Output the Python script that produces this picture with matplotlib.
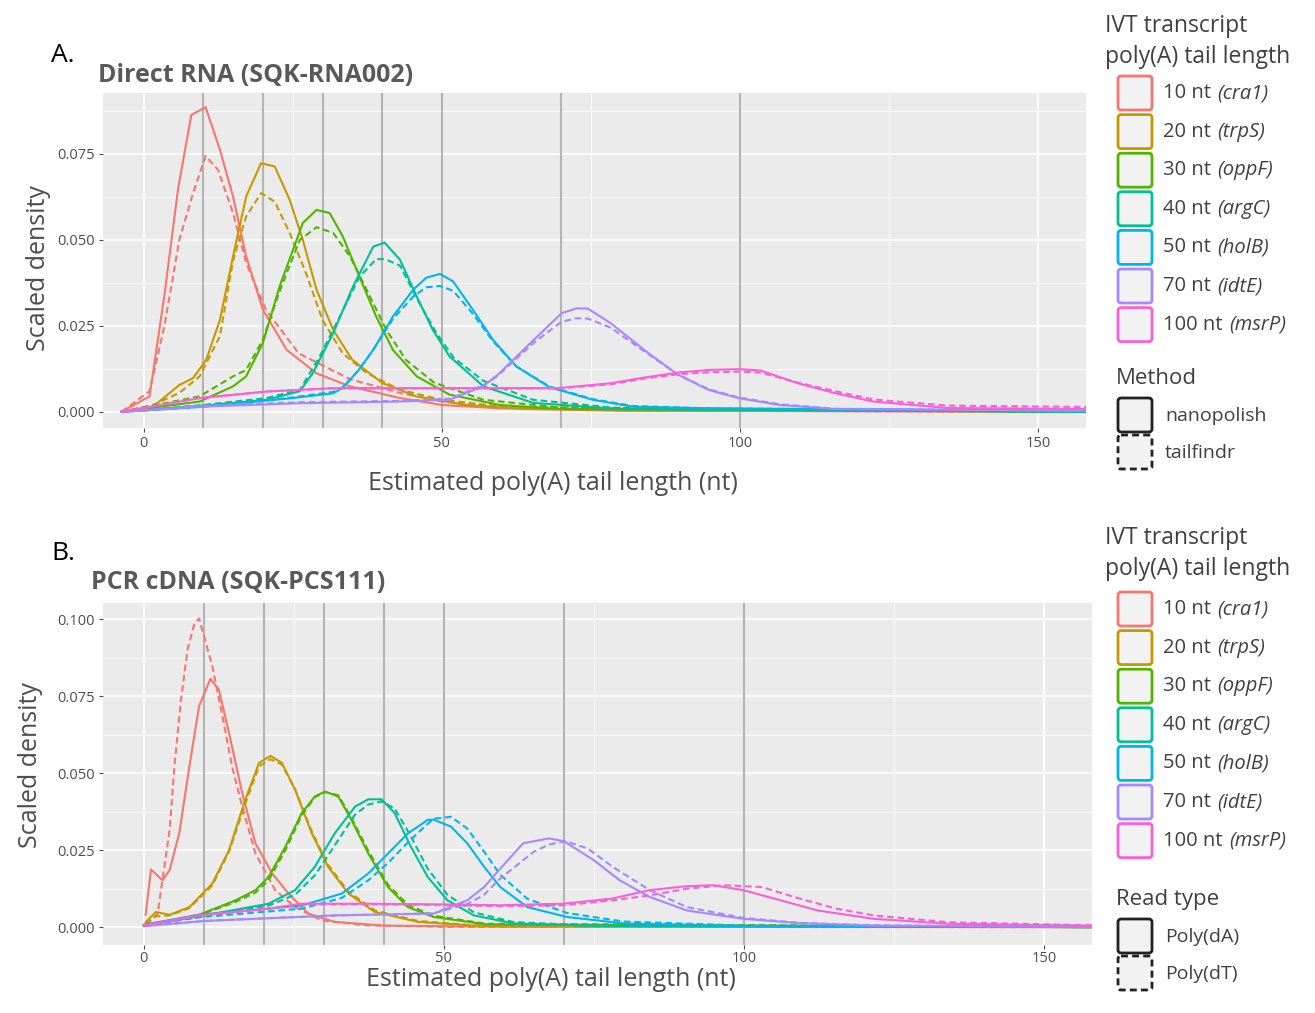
import matplotlib
matplotlib.use("Agg")
import matplotlib.pyplot as plt
from matplotlib.patches import FancyBboxPatch

plt.rcParams["font.family"] = ["Open Sans", "DejaVu Sans"]

# ---------------- data: panel A (Direct RNA), nanopolish / tailfindr ----------------
a_cra1_np_x = [-3.7, 1, 3.5, 5.8, 8, 10.4, 12.8, 15, 17.2, 20, 24, 29, 34.6, 43, 50, 60, 80, 160]
a_cra1_np_y = [0, 0.0045, 0.034, 0.065, 0.0863, 0.0886, 0.0762, 0.0626, 0.0452, 0.0297, 0.018, 0.0112, 0.0074, 0.004, 0.002, 0.001, 0.0003, 0]
a_cra1_tf_x = [-3.7, 1, 3.5, 6, 8.3, 10.4, 12.5, 15, 17.2, 20.5, 26, 34.6, 43, 50, 60, 80, 160]
a_cra1_tf_y = [0, 0.006, 0.025, 0.05, 0.0636, 0.0744, 0.0703, 0.0578, 0.0433, 0.0297, 0.017, 0.0095, 0.0055, 0.003, 0.0015, 0.0004, 0]

a_trps_np_x = [-3.7, 1.6, 6, 8.3, 10.5, 12.8, 15, 17.2, 19.7, 22, 24.5, 26.7, 29, 31.8, 35, 40, 45.7, 54, 65, 160]
a_trps_np_y = [0, 0.0015, 0.0078, 0.0098, 0.0151, 0.0267, 0.0452, 0.0626, 0.0723, 0.0713, 0.0616, 0.05, 0.0355, 0.0238, 0.0151, 0.0084, 0.0045, 0.002, 0.0008, 0]
a_trps_tf_x = [-3.7, 1.6, 6, 9.4, 12.8, 15, 17.2, 19.7, 22, 24.5, 27.3, 30, 33.4, 37.4, 43, 50, 60, 160]
a_trps_tf_y = [0, 0.002, 0.0055, 0.0103, 0.022, 0.044, 0.0568, 0.0636, 0.0611, 0.052, 0.04, 0.0267, 0.017, 0.0113, 0.0064, 0.0035, 0.0015, 0]

a_oppf_np_x = [-3.7, 9.4, 15, 17.2, 20, 22.8, 26.7, 29, 31.2, 33.4, 36.2, 39, 41.8, 45.8, 51.3, 59.7, 70, 160]
a_oppf_np_y = [0, 0.003, 0.0074, 0.0103, 0.02, 0.0364, 0.0549, 0.0587, 0.0578, 0.051, 0.0393, 0.0277, 0.018, 0.0103, 0.005, 0.002, 0.0008, 0]
a_oppf_tf_x = [-3.7, 9.4, 15, 17.2, 20, 22.8, 26.2, 29, 31.8, 34.6, 37.4, 40.7, 44, 48.7, 57, 70, 160]
a_oppf_tf_y = [0, 0.0045, 0.0103, 0.0122, 0.021, 0.035, 0.05, 0.0537, 0.052, 0.0452, 0.0355, 0.0238, 0.0151, 0.0085, 0.0035, 0.0012, 0]

a_argc_np_x = [-3.7, 10, 20.6, 26.2, 28.4, 31.8, 35.1, 38.5, 40.4, 43, 45.8, 48.5, 51.3, 57, 65.3, 80, 160]
a_argc_np_y = [0, 0.0018, 0.0035, 0.006, 0.0113, 0.0229, 0.0364, 0.048, 0.0492, 0.0442, 0.0335, 0.0238, 0.0161, 0.0074, 0.0026, 0.0008, 0]
a_argc_tf_x = [-3.7, 10, 20.6, 26.2, 29.5, 32.9, 36.2, 39, 40.5, 43, 45.8, 49, 52, 57, 65.3, 80, 160]
a_argc_tf_y = [0, 0.002, 0.004, 0.0064, 0.016, 0.0277, 0.0393, 0.0444, 0.0444, 0.0425, 0.033, 0.0232, 0.0157, 0.009, 0.0035, 0.001, 0]

a_holb_np_x = [-3.7, 10, 25, 31.8, 33.4, 36, 38.5, 41.8, 45.2, 47.4, 49.7, 51.9, 55.2, 58.6, 62.5, 68, 75.3, 82, 95, 160]
a_holb_np_y = [0, 0.0015, 0.004, 0.0054, 0.007, 0.012, 0.018, 0.0277, 0.0355, 0.039, 0.0401, 0.0379, 0.0297, 0.0209, 0.0132, 0.0072, 0.0035, 0.0015, 0.001, 0.0002]
a_holb_tf_x = [-3.7, 10, 25, 31.8, 33.4, 36, 38.5, 41.8, 45.2, 47.4, 49.7, 51.9, 55.2, 58.6, 62.5, 68, 75.3, 82, 95, 160]
a_holb_tf_y = [0, 0.0015, 0.0042, 0.0058, 0.0072, 0.012, 0.018, 0.027, 0.0335, 0.0362, 0.0366, 0.0352, 0.0285, 0.0205, 0.0132, 0.0074, 0.0037, 0.0017, 0.001, 0.0002]

a_idte_np_x = [-3.7, 9.4, 26.2, 43, 51.3, 57, 59.4, 62.5, 65.7, 70.1, 72.6, 74.5, 78.3, 84.6, 89.6, 94.7, 99.7, 106.6, 116, 160]
a_idte_np_y = [0, 0.0015, 0.0025, 0.003, 0.0035, 0.0075, 0.0108, 0.016, 0.0214, 0.0287, 0.0301, 0.03, 0.0258, 0.0171, 0.0108, 0.0064, 0.004, 0.002, 0.0008, 0.0003]
a_idte_tf_x = [-3.7, 9.4, 26.2, 43, 51.3, 57, 59.4, 62.5, 65.7, 70.1, 72.6, 74.5, 78.3, 84.6, 89.6, 94.7, 99.7, 106.6, 116, 160]
a_idte_tf_y = [0, 0.0017, 0.0028, 0.0032, 0.0038, 0.0078, 0.0105, 0.0155, 0.0205, 0.0262, 0.0272, 0.0271, 0.0245, 0.0168, 0.0108, 0.0066, 0.0042, 0.0022, 0.0009, 0.0003]

a_msrp_np_x = [-3.7, 9.4, 20.6, 31.8, 48.5, 59.4, 69.5, 78.3, 84, 90, 95, 100, 103.5, 109.7, 116, 122.3, 134.9, 153.8, 160]
a_msrp_np_y = [0, 0.004, 0.0059, 0.0069, 0.0069, 0.0069, 0.0069, 0.0083, 0.0100, 0.0115, 0.0122, 0.0124, 0.012, 0.0083, 0.0054, 0.003, 0.0011, 0.0009, 0.0008]
a_msrp_tf_x = [-3.7, 9.4, 20.6, 31.8, 48.5, 59.4, 69.5, 78.3, 84, 90, 95, 100, 103.5, 109.7, 116, 122.3, 134.9, 153.8, 160]
a_msrp_tf_y = [0, 0.004, 0.0059, 0.0068, 0.0068, 0.0068, 0.0068, 0.008, 0.0097, 0.011, 0.0115, 0.0117, 0.0114, 0.0085, 0.006, 0.0036, 0.0018, 0.0015, 0.0014]

# ---------------- data: panel B (PCR cDNA), Poly(dA) / Poly(dT) ----------------
b_cra1_da_x = [0.3, 1.2, 3.1, 4.3, 5.9, 7.6, 9.2, 11.1, 12.5, 14.2, 16.4, 18.6, 21.4, 24.1, 27.4, 31.8, 40, 60, 160]
b_cra1_da_y = [0.004, 0.0187, 0.0152, 0.0185, 0.0304, 0.0522, 0.0717, 0.0806, 0.0771, 0.063, 0.0435, 0.0272, 0.0174, 0.0109, 0.0044, 0.0017, 0.0005, 0.0001, 0]
b_cra1_dt_x = [0.4, 2.3, 4.3, 5.1, 6.2, 7.3, 8.4, 9.2, 11.4, 13.1, 14.7, 16.4, 18.6, 21.9, 25.2, 29.6, 37, 50, 160]
b_cra1_dt_y = [0.0006, 0.0044, 0.0315, 0.0522, 0.0739, 0.0902, 0.0983, 0.1002, 0.0848, 0.0685, 0.0522, 0.0391, 0.0239, 0.012, 0.0065, 0.0022, 0.0006, 0.0001, 0]

b_trps_da_x = [0.3, 2, 4.3, 7.6, 11.4, 14.2, 16.9, 19.2, 21.1, 23, 25.2, 28, 30.7, 34.1, 38.5, 45.7, 55, 160]
b_trps_da_y = [0.0016, 0.0049, 0.004, 0.0065, 0.0141, 0.025, 0.0413, 0.0533, 0.0556, 0.0533, 0.0446, 0.0304, 0.0196, 0.0109, 0.0049, 0.0017, 0.0005, 0]
b_trps_dt_x = [0.3, 2, 4.3, 7.6, 11.4, 14.2, 16.9, 19.2, 21.1, 23, 25.2, 28, 30.7, 34.1, 38.5, 45.7, 55, 160]
b_trps_dt_y = [0.0012, 0.0035, 0.0038, 0.0062, 0.0135, 0.0245, 0.040, 0.0522, 0.0545, 0.0528, 0.0448, 0.031, 0.0202, 0.0115, 0.0054, 0.002, 0.0006, 0]

b_oppf_da_x = [0, 9.2, 15.3, 18.6, 20.8, 23.6, 26.3, 28.5, 30.2, 32.4, 34.6, 37.4, 40.7, 44, 48.3, 57, 160]
b_oppf_da_y = [0.0005, 0.004, 0.0087, 0.012, 0.0163, 0.0261, 0.037, 0.0424, 0.044, 0.0424, 0.0348, 0.0239, 0.013, 0.0065, 0.0033, 0.0009, 0]
b_oppf_dt_x = [0, 9.2, 15.3, 18.6, 20.8, 23.6, 26.3, 28.5, 30.2, 32.4, 34.6, 37.4, 40.7, 44, 48.3, 57, 160]
b_oppf_dt_y = [0.0005, 0.0038, 0.0082, 0.0112, 0.0152, 0.025, 0.0362, 0.0422, 0.0438, 0.0428, 0.0355, 0.0248, 0.0138, 0.0072, 0.0037, 0.0011, 0]

b_argc_da_x = [0, 9.2, 20.8, 25.2, 28.5, 31.8, 35.2, 37.4, 39.6, 41.8, 44.5, 47.3, 50.6, 55, 61.7, 75, 160]
b_argc_da_y = [0.0005, 0.0035, 0.0076, 0.012, 0.0196, 0.0304, 0.0391, 0.0415, 0.0415, 0.037, 0.0261, 0.0163, 0.0087, 0.0038, 0.0012, 0.0004, 0]
b_argc_dt_x = [0, 9.2, 20.8, 25.2, 28.5, 31.8, 35.2, 37.4, 39.6, 41.8, 44.5, 47.3, 50.6, 55, 61.7, 75, 160]
b_argc_dt_y = [0.0005, 0.0033, 0.007, 0.0105, 0.0168, 0.0265, 0.0365, 0.0398, 0.0408, 0.0385, 0.0295, 0.019, 0.0105, 0.0048, 0.0016, 0.0005, 0]

b_holb_da_x = [0, 9.2, 26.3, 33, 37.4, 40.7, 44, 47.3, 48.3, 51.2, 53.9, 56.7, 59.4, 63.9, 70.5, 80, 100, 160]
b_holb_da_y = [0.0008, 0.004, 0.007, 0.0109, 0.0174, 0.0239, 0.0304, 0.0348, 0.0349, 0.0326, 0.0272, 0.0196, 0.013, 0.0065, 0.0033, 0.0012, 0.0004, 0]
b_holb_dt_x = [0, 9.2, 26.3, 33, 37.4, 40.7, 44, 47.3, 48.3, 51.2, 53.9, 56.7, 59.4, 63.9, 70.5, 80, 100, 160]
b_holb_dt_y = [0.0006, 0.0032, 0.006, 0.0095, 0.0152, 0.0208, 0.0275, 0.0335, 0.0352, 0.0358, 0.032, 0.0245, 0.017, 0.0092, 0.0046, 0.0018, 0.0005, 0]

b_idte_da_x = [0, 10, 31.8, 48.3, 53.9, 56.7, 59.4, 63.2, 67.5, 70, 75, 79.3, 84.3, 90.5, 99.9, 109.2, 121.6, 160]
b_idte_da_y = [0.0003, 0.002, 0.0038, 0.0044, 0.0087, 0.013, 0.019, 0.0272, 0.0288, 0.0279, 0.0217, 0.0152, 0.0098, 0.0054, 0.0027, 0.0013, 0.0005, 0]
b_idte_dt_x = [0, 10, 31.8, 48.3, 53.9, 56.7, 59.4, 65, 67.5, 70.3, 74, 78.1, 84.3, 90.5, 99.9, 109.2, 121.6, 160]
b_idte_dt_y = [0.0003, 0.002, 0.0038, 0.0045, 0.0075, 0.0105, 0.0158, 0.0245, 0.0268, 0.0279, 0.0255, 0.0196, 0.012, 0.0065, 0.003, 0.0014, 0.0006, 0]

b_msrp_da_x = [0, 9.2, 20.8, 26.3, 37.4, 48.3, 59.4, 70, 78.1, 84.3, 90.5, 94.9, 99.9, 106.1, 112.3, 121.6, 134, 160]
b_msrp_da_y = [0.0005, 0.0038, 0.006, 0.0076, 0.0076, 0.0074, 0.0071, 0.0076, 0.0093, 0.012, 0.0133, 0.0136, 0.012, 0.0087, 0.0054, 0.0027, 0.0011, 0.0004]
b_msrp_dt_x = [0, 9.2, 20.8, 26.3, 37.4, 48.3, 59.4, 70, 78.1, 84.3, 90.5, 96.8, 103, 109.2, 115.4, 121.6, 134, 160]
b_msrp_dt_y = [0.0005, 0.0038, 0.006, 0.0074, 0.0074, 0.0072, 0.0068, 0.0071, 0.0087, 0.0103, 0.0125, 0.0136, 0.013, 0.0093, 0.006, 0.0038, 0.0016, 0.0005]

# labels / categories
tail_labels = ["10 nt", "20 nt", "30 nt", "40 nt", "50 nt", "70 nt", "100 nt"]
gene_labels = ["(cra1)", "(trpS)", "(oppF)", "(argC)", "(holB)", "(idtE)", "(msrP)"]
colors = ["#F8766D", "#C49A00", "#53B400", "#00C094", "#00B6EB", "#A58AFF", "#FB61D7"]
ref_lengths = [10, 20, 30, 40, 50, 70, 100]

a_solid = [(a_cra1_np_x, a_cra1_np_y), (a_trps_np_x, a_trps_np_y), (a_oppf_np_x, a_oppf_np_y),
           (a_argc_np_x, a_argc_np_y), (a_holb_np_x, a_holb_np_y), (a_idte_np_x, a_idte_np_y),
           (a_msrp_np_x, a_msrp_np_y)]
a_dash = [(a_cra1_tf_x, a_cra1_tf_y), (a_trps_tf_x, a_trps_tf_y), (a_oppf_tf_x, a_oppf_tf_y),
          (a_argc_tf_x, a_argc_tf_y), (a_holb_tf_x, a_holb_tf_y), (a_idte_tf_x, a_idte_tf_y),
          (a_msrp_tf_x, a_msrp_tf_y)]
b_solid = [(b_cra1_da_x, b_cra1_da_y), (b_trps_da_x, b_trps_da_y), (b_oppf_da_x, b_oppf_da_y),
           (b_argc_da_x, b_argc_da_y), (b_holb_da_x, b_holb_da_y), (b_idte_da_x, b_idte_da_y),
           (b_msrp_da_x, b_msrp_da_y)]
b_dash = [(b_cra1_dt_x, b_cra1_dt_y), (b_trps_dt_x, b_trps_dt_y), (b_oppf_dt_x, b_oppf_dt_y),
          (b_argc_dt_x, b_argc_dt_y), (b_holb_dt_x, b_holb_dt_y), (b_idte_dt_x, b_idte_dt_y),
          (b_msrp_dt_x, b_msrp_dt_y)]

W, H = 1315, 1013
DASH = (0, (3.2, 1.8))
TXT = "#4D4D4D"
LEG = "#404040"

fig = plt.figure(figsize=(W / 100, H / 100), dpi=100)
axA = fig.add_axes([103 / W, 1 - 428 / H, 983 / W, 335 / H])
axB = fig.add_axes([103 / W, 1 - 945 / H, 989 / W, 342 / H])


def draw_panel(ax, solid, dashed, yticks, ylim, xpad):
    ax.set_facecolor("#EBEBEB")
    for s in ax.spines.values():
        s.set_visible(False)
    ax.set_xticks([0, 50, 100, 150])
    ax.set_xticks([25, 75, 125], minor=True)
    ax.set_yticks(yticks)
    ax.set_yticklabels(["%.3f" % v for v in yticks])
    ax.set_yticks([v + 0.0125 for v in yticks if v + 0.0125 < ylim[1]], minor=True)
    ax.set_xlim(-6.8, 158)
    ax.set_ylim(*ylim)
    ax.grid(which="major", color="white", lw=1.2)
    ax.grid(which="minor", color="white", lw=0.6)
    ax.set_axisbelow(True)
    ax.tick_params(which="minor", length=0)
    ax.tick_params(which="major", length=3, width=0.8, color="#4D4D4D",
                   labelcolor=TXT, labelsize=10.5, pad=3)
    ax.tick_params(axis="x", which="major", pad=xpad)
    for v in ref_lengths:
        ax.axvline(v, color="#B4B4B4", lw=1.5, zorder=1)
    for i in range(len(colors)):
        ax.plot(solid[i][0], solid[i][1], color=colors[i], lw=1.5, zorder=3)
        ax.plot(dashed[i][0], dashed[i][1], color=colors[i], lw=1.5, ls=DASH, zorder=3)
    ax.set_xlabel("Estimated poly(A) tail length (nt)", fontsize=18, color=TXT)
    ax.set_ylabel("Scaled density", fontsize=18, color=TXT)


draw_panel(axA, a_solid, a_dash, [0, 0.025, 0.05, 0.075], (-0.0047, 0.0927), 3)
draw_panel(axB, b_solid, b_dash, [0, 0.025, 0.05, 0.075, 0.1], (-0.0058, 0.1052), 1)
axA.xaxis.set_label_coords((553 - 103) / 983, -(471 - 428) / 335)
axA.yaxis.set_label_coords((51 - 103) / 983, 0.478)
axB.xaxis.set_label_coords((551 - 103) / 989, -(967 - 945) / 342)
axB.yaxis.set_label_coords((43 - 103) / 989, 0.526)

# overlay in pixel coordinates for titles and legends
lax = fig.add_axes([0, 0, 1, 1], facecolor="none")
lax.set_xlim(0, W)
lax.set_ylim(H, 0)
lax.axis("off")

lax.text(51, 55, "A.", fontsize=19, color="black", va="center")
lax.text(51, 553, "B.", fontsize=19, color="black", va="center")
lax.text(98, 75, "Direct RNA (SQK-RNA002)", fontsize=18, fontweight="bold", color="#595959", va="center")
lax.text(91, 582, "PCR cDNA (SQK-PCS111)", fontsize=18, fontweight="bold", color="#595959", va="center")

renderer = fig.canvas.get_renderer()


def key_box(x, y, color, ls="solid"):
    box = FancyBboxPatch((x, y), 34, 34, boxstyle="round,pad=0,rounding_size=3",
                         facecolor="#F2F2F2", edgecolor=color, lw=2, ls=ls)
    lax.add_patch(box)


def draw_legend(title_y, first_y, step, sub_title, sub_y, sub_labels):
    lax.text(1105, title_y, "IVT transcript", fontsize=16.5, color=LEG, va="center")
    lax.text(1105, title_y + 31, "poly(A) tail length", fontsize=16.5, color=LEG, va="center")
    for i in range(len(colors)):
        y = first_y + i * step
        key_box(1118, y, colors[i])
        t = lax.text(1163, y + 17, tail_labels[i] + " ", fontsize=14.5, color=LEG, va="center")
        bb = t.get_window_extent(renderer)
        lax.text(bb.x1 + 1, y + 17, gene_labels[i], fontsize=14.5, style="italic",
                 color=LEG, va="center")
    lax.text(1116, sub_y, sub_title, fontsize=16, color=LEG, va="center")
    key_box(1118, sub_y + 20, "#222222")
    key_box(1118, sub_y + 57, "#222222", ls=(0, (2.5, 1.5)))
    lax.text(1165, sub_y + 38, sub_labels[0], fontsize=14, color=LEG, va="center")
    lax.text(1165, sub_y + 75, sub_labels[1], fontsize=14, color=LEG, va="center")


draw_legend(26, 76, 38.6, "Method", 378, ["nanopolish", "tailfindr"])
draw_legend(538, 592, 38.6, "Read type", 899, ["Poly(dA)", "Poly(dT)"])

fig.savefig("out.png", dpi=100)
